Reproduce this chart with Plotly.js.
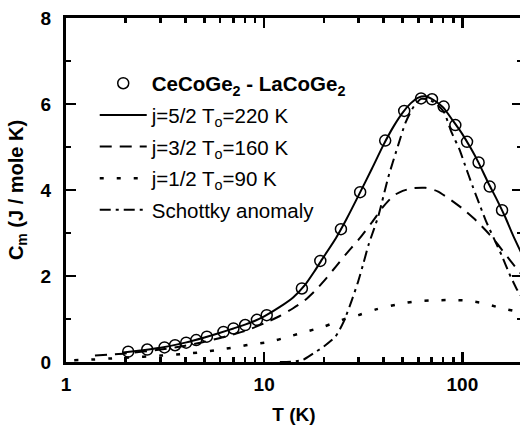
<!DOCTYPE html>
<html><head><meta charset="utf-8">
<script src="https://cdn.plot.ly/plotly-3.0.1.min.js"></script>
<style>html,body{margin:0;padding:0;overflow:hidden;background:#fff}#chart{width:524px;height:429px}</style>
</head><body><div id="chart"></div>
<script>
// Measured data: CeCoGe2 - LaCoGe2
var dataT = [2.06, 2.57, 3.14, 3.55, 4.04, 4.54, 5.14, 6.23, 7.0, 8.02, 9.19, 10.3, 15.5, 19.2, 24.4, 30.5, 40.8, 50.9, 61.9, 70.3, 80.5, 92.2, 105.6, 120.8, 137.4, 158.6];
var dataC = [0.24, 0.29, 0.34, 0.39, 0.45, 0.51, 0.59, 0.70, 0.78, 0.86, 0.98, 1.09, 1.71, 2.35, 3.09, 3.95, 5.15, 5.84, 6.13, 6.11, 5.94, 5.51, 5.12, 4.64, 4.08, 3.53];

// j=5/2 To=220 K
var j52T = [1.94, 2.5, 3, 4, 5, 6, 7, 8, 9, 10, 12, 14, 16, 18, 20, 23, 26, 30, 35, 40, 45, 50, 55, 60, 65, 70, 75, 80, 90, 100, 110, 120, 135, 150, 165, 180, 200];
var j52C = [0.22, 0.28, 0.33, 0.45, 0.57, 0.68, 0.78, 0.87, 0.96, 1.06, 1.28, 1.50, 1.78, 2.12, 2.45, 2.88, 3.32, 3.88, 4.5, 5.05, 5.48, 5.8, 6.02, 6.15, 6.18, 6.12, 6.03, 5.92, 5.6, 5.3, 4.98, 4.66, 4.17, 3.76, 3.36, 2.95, 2.5];

// j=3/2 To=160 K
var j32T = [1.4, 2, 3, 4, 5, 6, 8, 10, 12, 14, 16, 18, 20, 23, 26, 30, 35, 40, 45, 50, 56, 65, 75, 85, 100, 118, 135, 150, 175, 200];
var j32C = [0.15, 0.2, 0.29, 0.38, 0.47, 0.56, 0.72, 0.9, 1.07, 1.25, 1.43, 1.65, 1.88, 2.22, 2.52, 2.85, 3.25, 3.62, 3.87, 3.98, 4.04, 4.05, 3.97, 3.81, 3.57, 3.28, 3.0, 2.75, 2.35, 2.02];

// j=1/2 To=90 K
var j12T = [1.1, 1.4, 1.65, 2, 3, 4, 4.66, 5.78, 7.1, 8.3, 10.7, 13.3, 16.1, 19.9, 24.7, 29.9, 37.1, 45.9, 56, 69, 84, 103.5, 127, 155, 189, 200];
var j12C = [0.04, 0.06, 0.08, 0.1, 0.15, 0.19, 0.22, 0.28, 0.34, 0.40, 0.47, 0.59, 0.70, 0.82, 0.98, 1.09, 1.23, 1.33, 1.40, 1.43, 1.44, 1.43, 1.37, 1.26, 1.17, 1.13];

// Schottky anomaly
var schT = [12, 14, 15.7, 17.7, 20, 22.9, 25.2, 27.7, 29.8, 31.7, 33.6, 37.7, 42.3, 47.5, 51.6, 57, 62, 68, 75, 81, 88, 96.6, 102.4, 112.4, 119, 131, 145, 159, 172, 188, 200];
var schC = [0, 0.01, 0.05, 0.2, 0.36, 0.59, 0.94, 1.44, 1.87, 2.3, 2.72, 3.4, 4.3, 5.05, 5.56, 5.95, 6.12, 6.1, 5.98, 5.8, 5.35, 4.95, 4.62, 4.1, 3.8, 3.3, 2.85, 2.45, 2.07, 1.7, 1.5];

var names = ['<b>CeCoGe<sub>2</sub> - LaCoGe<sub>2</sub></b>', 'j=5/2 T<sub>o</sub>=220 K', 'j=3/2 T<sub>o</sub>=160 K', 'j=1/2 T<sub>o</sub>=90 K', 'Schottky anomaly'];
var xTickVals = [1, 10, 100];
var xTickText = ['1', '10', '100'];
var xMinorVals = [2, 3, 4, 5, 6, 7, 8, 9, 20, 30, 40, 50, 60, 70, 80, 90, 200];

var FONT = 'Liberation Sans, Arial, Helvetica, sans-serif';
var traces = [
  {x: dataT, y: dataC, mode: 'markers', name: names[0], legendgroup: 'a',
   marker: {symbol: 'circle-open', size: 11, color: '#000', line: {width: 1.5, color: '#000'}}},
  {x: j52T, y: j52C, mode: 'lines', name: names[1], legendgroup: 'b', line: {color: '#000', width: 2, shape: 'spline', smoothing: 0.6}},
  {x: j32T, y: j32C, mode: 'lines', name: names[2], legendgroup: 'c', line: {color: '#000', width: 2, dash: '12px,8px', shape: 'spline', smoothing: 0.6}},
  {x: j12T, y: j12C, mode: 'lines', name: names[3], legendgroup: 'd', line: {color: '#000', width: 2.5, dash: '4px,13px', shape: 'spline', smoothing: 0.6}},
  {x: schT, y: schC, mode: 'lines', name: names[4], legendgroup: 'e', line: {color: '#000', width: 2, dash: '11px,5px,3px,5px', shape: 'spline', smoothing: 0.6}}
];

var layout = {
  width: 524, height: 429,
  margin: {l: 66, r: 2, t: 18, b: 67, pad: 0},
  paper_bgcolor: '#fff', plot_bgcolor: '#fff',
  font: {family: FONT, color: '#000', size: 19},
  showlegend: true,
  legend: {x: 0.063, y: 0.868, xanchor: 'left', yanchor: 'top', bgcolor: 'rgba(0,0,0,0)',
           font: {family: FONT, size: 20.5, color: '#000'}, itemwidth: 47, tracegroupgap: 2},
  xaxis: {type: 'log', range: [0, Math.log10(200)], tickmode: 'array', tickvals: xTickVals, ticktext: xTickText,
          ticks: 'inside', ticklen: 10, tickwidth: 2.5, tickcolor: '#000',
          showline: true, linewidth: 3, linecolor: '#000', mirror: 'ticks', showgrid: false, zeroline: false,
          tickfont: {family: FONT, size: 19, weight: 'bold'}, ticklabelstandoff: 3,
          minor: {tickmode: 'array', tickvals: xMinorVals, ticks: 'inside', ticklen: 5, tickwidth: 2.5, tickcolor: '#000', showgrid: false},
          title: {text: '<b>T (K)</b>', font: {family: FONT, size: 19}, standoff: 14}},
  yaxis: {range: [0, 8], dtick: 2, tick0: 0,
          ticks: 'inside', ticklen: 10, tickwidth: 2.5, tickcolor: '#000',
          showline: true, linewidth: 3, linecolor: '#000', mirror: 'ticks', showgrid: false, zeroline: false,
          tickfont: {family: FONT, size: 19, weight: 'bold'}, ticklabelstandoff: 8,
          minor: {dtick: 1, ticks: 'inside', ticklen: 5, tickwidth: 2.5, tickcolor: '#000', showgrid: false},
          title: {text: '<b>C<sub>m</sub> (J / mole K)</b>', font: {family: FONT, size: 20}, standoff: 12}}
};

Plotly.newPlot('chart', traces, layout, {displayModeBar: false, staticPlot: true});
</script></body></html>
